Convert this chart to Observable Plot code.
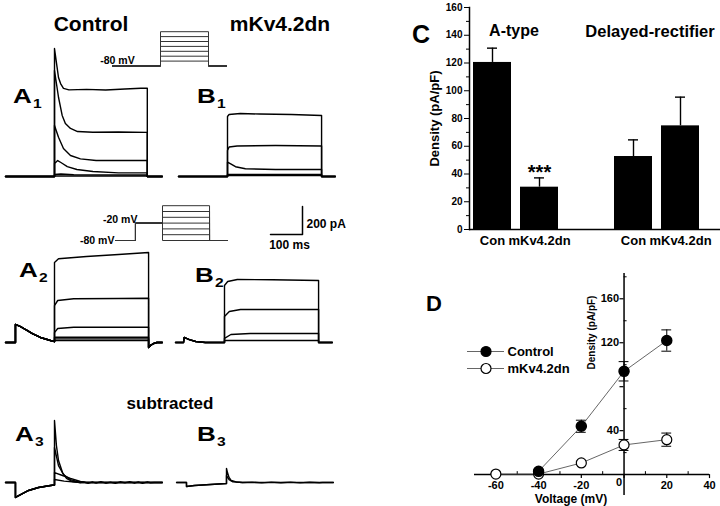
<!DOCTYPE html>
<html><head><meta charset="utf-8">
<script src="https://cdn.jsdelivr.net/npm/d3@7"></script>
<script src="https://cdn.jsdelivr.net/npm/@observablehq/plot@0.6"></script>
<style>
body{margin:0;background:#fff;}
#fig{position:relative;width:720px;height:506px;overflow:hidden;background:#fff;font-family:"Liberation Sans",Arial,sans-serif;font-weight:bold;color:#000;}
.pp{position:absolute;}
.lbl{position:absolute;white-space:nowrap;line-height:1;}
.pl{position:absolute;white-space:nowrap;line-height:1;font-size:20px;transform-origin:left center;}
.pl .s{font-size:12px;position:relative;top:5px;margin-left:1px;}
</style></head>
<body><div id="fig"></div>
<script>
const FONT = '"Liberation Sans", Arial, sans-serif';

// ---------- current traces (t in ms from step onset, I in pA) ----------
const A1_PRE = [[-153,0],[0,0]];
const A1_POST = [[290,0],[337,0]];
const A1_STEPS = [
  [[0,914],[8,781],[12.5,707],[19,664],[28,629],[45,619],[100,622],[160,618],[220,625],[270,630],[290,630]],
  [[0,757],[12.5,566],[24,436],[34,379],[50,343],[72,321],[120,316],[200,318],[290,315]],
  [[0,364],[12.5,281],[28,200],[50,150],[81,126],[130,114],[290,114]],
  [[0,93],[10,114],[20,100],[40,71],[70,50],[120,36],[200,26],[290,26]],
  [[0,14],[20,18],[60,12],[290,11]],
  [[0,4],[290,4]]
];
const B1_PRE = [[-153,0],[0,0]];
const B1_POST = [[294,0],[337,0]];
const B1_STEPS = [
  [[0,429],[5,443],[40,450],[100,446],[200,443],[294,436]],
  [[0,186],[5,211],[30,218],[150,221],[294,218]],
  [[0,102],[10,90],[25,70],[56,55],[150,50],[294,50]],
  [[0,14],[294,14]],
  [[0,7],[294,7]]
];
const A2_PRE = [[-153,0],[-122,0],[-122,129],[-106,114],[-91,93],[-69,64],[-44,36],[-12.5,14],[0,6]];
const A2_POST = [[294,-36],[300,-21],[310,-7],[320,0],[337,0]];
const A2_STEPS = [
  [[0,571],[12.5,598],[100,614],[200,629],[294,643]],
  [[0,264],[10,300],[60,312],[200,314],[294,316]],
  [[0,71],[10,100],[60,109],[294,109]],
  [[0,38],[294,38]],
  [[0,26],[294,26]],
  [[0,14],[294,14]]
];
const B2_PRE = [[-153,0],[-128,0],[-126,36],[-110,21],[-90,7],[-60,0],[0,0]];
const B2_POST = [[294,0],[337,0]];
const B2_STEPS = [
  [[0,407],[10,436],[40,450],[150,448],[294,443]],
  [[0,186],[15,221],[50,236],[294,236]],
  [[0,29],[20,57],[80,64],[294,64]],
  [[0,14],[294,14]]
];
const A3_PRE = [[-153,0],[-122,0],[-122,-107],[-106,-86],[-81,-57],[-50,-36],[-12.5,-21],[0,-18]];
const A3_POST = [[337,0]];
const A3_STEPS = [
  [[0,443],[6,264],[12.5,157],[25,71],[37.5,29],[56,7],[80,0],[90,4],[105,-6],[118,5],[130,-4],[145,6],[160,-5],[175,3],[190,-6],[205,5],[220,-3],[235,6],[250,-5],[262,4],[275,-6],[290,5],[300,-2],[312,0]],
  [[0,250],[12.5,121],[28,57],[50,21],[80,0]],
  [[0,71],[25,50],[50,29],[81,7],[100,0]],
  [[0,21],[30,10],[80,0]]
];
const B3_PRE = [[-156,0],[-125,0],[-125,-29],[-100,-21],[-50,-14],[0,-7]];
const B3_POST = [[334,0]];
const B3_STEPS = [
  [[0,100],[3,71],[8,36],[15,14],[30,4],[50,0],[80,3],[110,-3],[140,3],[170,-2],[200,3],[230,-3],[260,2],[290,-2],[300,0]],
  [[0,50],[8,20],[20,5],[50,0]]
];

// ---------- voltage protocols ----------
const HOLD_MV = -80;
const P1_LEVELS = [-60,-40,-20,0,20,40,60];
const P1_TIMES = [-300,0,300,412];
const P2_LEVELS = [-80,-60,-40,-20,0,20,40];
const P2_PRE_MV = -20;
const P2_TIMES = [-294,-169,0,294,406];

// ---------- scale bar ----------
const SCALE_MS = 100, SCALE_PA = 200;

// ---------- panel C ----------
const C_KEYS = ["A-Con","A-dn","gap","D-Con","D-dn"];
const C_LABELS = ["Con","mKv4.2dn","","Con","mKv4.2dn"];
const C_VALUES = [120.4, 30.5, null, 52.6, 74.7];
const C_ERRORS = [10.3, 6.7, null, 12.0, 20.7];
const C_SIG = ["", "***", "", "", ""];
const C_YTICKS = [0,20,40,60,80,100,120,140,160];
const C_YMINOR = [10,30,50,70,90,110,130,150];

// ---------- panel D ----------
const D_VOLT_CTRL = [-40,-20,0,20];
const D_CTRL = [3, 44, 94, 122];
const D_CTRL_ERR = [1, 5.5, 8.8, 9.7];
const D_VOLT_DN = [-60,-40,-20,0,20];
const D_DN = [0.5, 0.5, 10.6, 27, 31.8];
const D_DN_ERR = [0, 0, 1.5, 5, 6];
const D_XLABELS = [-60,-40,-20,0,20,40];
const D_XMINOR = [-50,-30,-10,10,30];
const D_YMAJOR = [40,80,120,160];
const D_YLABELS = [40,120,160];
const D_YMINOR = [20,60,100,140,180];
const D_SERIES = ["Control","mKv4.2dn"];

// ---------- layout helpers ----------
const fig = document.getElementById("fig");
const MS = 0.32, PA = 0.14;      // px per ms, px per pA
const PMS = 0.16;                // protocol px per ms
const baseStyle = {background:"none", fontFamily:FONT, fontWeight:"bold", overflow:"visible"};

function place(svg, left, top, w){
  const d = document.createElement("div");
  d.className = "pp"; d.style.left = left+"px"; d.style.top = top+"px"; d.style.width = w+"px";
  d.appendChild(svg); fig.appendChild(d);
}
function panel(box, origin, scale, marks){
  const [left, top, width, height] = box, [ox, oy] = origin, [sx, sy] = scale;
  const svg = Plot.plot({
    width, height, margin:0, style:baseStyle,
    x:{domain:[(left-ox)/sx, (left+width-ox)/sx], axis:null, label:null},
    y:{domain:[(oy-top-height)/sy, (oy-top)/sy], axis:null, label:null},
    marks
  });
  place(svg, left, top, width);
}
function traceMarks(pre, steps, post){
  const data = steps.flatMap((s,k) => [...pre, ...s, ...post].map(([t,v]) => ({t, v, k})));
  return [Plot.line(data, {x:"t", y:"v", z:"k", stroke:"black", strokeWidth:1.4})];
}
function label(txt, x, y, size, anchor="middle"){
  const d = document.createElement("div");
  d.className = "lbl"; d.textContent = txt;
  d.style.left = x+"px"; d.style.top = y+"px"; d.style.fontSize = size+"px";
  d.style.transform = `translate(${anchor==="start"?0:-50}%,-50%)`;
  fig.appendChild(d);
}
function panelLetter(letter, sub, x, y){
  const d = document.createElement("div");
  d.className = "pl"; d.style.left = x+"px"; d.style.top = (y-10)+"px";
  d.style.transform = "scaleX(1.3)";
  const a = document.createElement("span"); a.textContent = letter;
  const s = document.createElement("span"); s.className = "s"; s.textContent = sub;
  d.appendChild(a); d.appendChild(s); fig.appendChild(d);
}

// ---------- traces ----------
panel([0,40,175,145],  [54,176],  [MS,PA], traceMarks(A1_PRE, A1_STEPS, A1_POST));
panel([172,100,168,85],[227,176], [MS,PA], traceMarks(B1_PRE, B1_STEPS, B1_POST));
panel([0,245,175,110], [54,342],  [MS,PA], traceMarks(A2_PRE, A2_STEPS, A2_POST));
panel([172,268,168,85],[224,342], [MS,PA], traceMarks(B2_PRE, B2_STEPS, B2_POST));
panel([0,410,175,95],  [54,482],  [MS,PA], traceMarks(A3_PRE, A3_STEPS, A3_POST));
panel([172,455,168,45],[226,482], [MS,PA], traceMarks(B3_PRE, B3_STEPS, B3_POST));

// ---------- protocol 1 ----------
{
  const [t0,t1,t2,t3] = P1_TIMES;
  const data = P1_LEVELS.flatMap((V,k) => [[t0,HOLD_MV],[t1,HOLD_MV],[t1,V],[t2,V],[t2,HOLD_MV],[t3,HOLD_MV]].map(([t,v])=>({t,v,k})));
  panel([80,20,160,55],[160,45.9],[PMS,0.245],[
    Plot.line(data,{x:"t",y:"v",z:"k",stroke:"#333",strokeWidth:1}),
    Plot.text([{t:t0,v:HOLD_MV,s:`${HOLD_MV} mV`}],{x:"t",y:"v",text:"s",dx:5,dy:-5.5,fontSize:10.5})
  ]);
}
// ---------- protocol 2 ----------
{
  const [t0,tp,t1,t2,t3] = P2_TIMES;
  const data = P2_LEVELS.flatMap((V,k) => [[t0,HOLD_MV],[tp,HOLD_MV],[tp,P2_PRE_MV],[t1,P2_PRE_MV],[t1,V],[t2,V],[t2,HOLD_MV],[t3,HOLD_MV]].map(([t,v])=>({t,v,k})));
  panel([60,195,180,55],[162,216.8],[PMS,0.29],[
    Plot.line(data,{x:"t",y:"v",z:"k",stroke:"#333",strokeWidth:1}),
    Plot.text([{t:t0,v:HOLD_MV,s:`${HOLD_MV} mV`}],{x:"t",y:"v",text:"s",textAnchor:"end",dx:-1,fontSize:10.5}),
    Plot.text([{t:tp,v:P2_PRE_MV,s:`${P2_PRE_MV} mV`}],{x:"t",y:"v",text:"s",textAnchor:"end",dx:2,dy:-3.5,fontSize:10.5})
  ]);
}
// ---------- scale bar ----------
panel([255,198,100,57],[302,234],[MS,PA],[
  Plot.line([[-SCALE_MS,0],[0,0],[0,SCALE_PA]],{x:d=>d[0],y:d=>d[1],stroke:"black",strokeWidth:1.5}),
  Plot.text([`${SCALE_PA} pA`],{x:()=>0,y:()=>SCALE_PA/2,text:d=>d,textAnchor:"start",dx:4,dy:4,fontSize:12}),
  Plot.text([`${SCALE_MS} ms`],{x:()=>-SCALE_MS/2,y:()=>0,text:d=>d,dx:3,dy:11,fontSize:12})
]);

// ---------- panel C ----------
{
  const cData = C_KEYS.map((key,i)=>({key,value:C_VALUES[i],err:C_ERRORS[i],sig:C_SIG[i]})).filter(d=>d.value!=null);
  const svg = Plot.plot({
    width:310, height:250, marginLeft:59, marginRight:0, marginTop:7, marginBottom:21,
    style:baseStyle,
    x:{type:"band", domain:C_KEYS, range:[59,294], paddingInner:0.19, paddingOuter:0.095, label:null},
    y:{domain:[0,160], label:null},
    marks:[
      Plot.ruleX(cData,{x:"key",y1:"value",y2:d=>d.value+d.err,stroke:"black",strokeWidth:1.4}),
      Plot.tickY(cData,{x:"key",y:d=>d.value+d.err,insetLeft:14,insetRight:14,stroke:"black",strokeWidth:1.4}),
      Plot.barY(cData,{x:"key",y:"value",fill:"black"}),
      Plot.text(cData,{x:"key",y:d=>d.value+d.err,text:"sig",dy:-5,fontSize:20}),
      Plot.axisY({ticks:C_YTICKS,tickSize:5,tickPadding:2,fontSize:10}),
      Plot.axisY({ticks:C_YMINOR,tickSize:3,tickFormat:()=>""}),
      Plot.axisX({ticks:C_KEYS.filter((k,i)=>C_LABELS[i]),tickFormat:k=>C_LABELS[C_KEYS.indexOf(k)],tickSize:0,tickPadding:6,fontSize:13}),
      Plot.frame({anchor:"left",strokeWidth:1.5}),
      Plot.ruleY([0],{strokeWidth:1.5}),
      Plot.text(["Density (pA/pF)"],{frameAnchor:"left",rotate:-90,dx:-35,text:d=>d,textAnchor:"middle",lineAnchor:"middle",fontSize:13})
    ]
  });
  place(svg,410,0,310);
}

// ---------- panel D ----------
{
  const dCtrl = D_VOLT_CTRL.map((v,i)=>({v,y:D_CTRL[i],e:D_CTRL_ERR[i]}));
  const dDn = D_VOLT_DN.map((v,i)=>({v,y:D_DN[i],e:D_DN_ERR[i]}));
  const both = [...dCtrl, ...dDn];
  const CAP = 2.3, TKX = 3.6, TKY = 1.9;
  const svg = Plot.plot({
    width:260, height:241, marginLeft:14, marginRight:11, marginTop:8, marginBottom:11,
    style:baseStyle,
    x:{domain:[-70,40], axis:null, label:null},
    y:{domain:[-19,183], axis:null, label:null},
    marks:[
      Plot.ruleY([0],{strokeWidth:1.5}),
      Plot.ruleX([0],{strokeWidth:1.5}),
      Plot.ruleX(D_XLABELS,{x:d=>d,y1:-TKX,y2:0,strokeWidth:1.2}),
      Plot.ruleX(D_XMINOR,{x:d=>d,y1:0,y2:TKX*0.75,strokeWidth:1}),
      Plot.ruleY(D_YMAJOR,{y:d=>d,x1:-TKY,x2:0,strokeWidth:1.2}),
      Plot.ruleY(D_YMINOR,{y:d=>d,x1:0,x2:TKY*0.75,strokeWidth:1}),
      Plot.text(D_XLABELS.filter(d=>d!==0),{x:d=>d,y:()=>0,dy:11,text:d=>String(d),fontSize:11}),
      Plot.text(D_XLABELS.filter(d=>d===0),{x:d=>d,y:()=>0,dx:-5,dy:8,text:d=>String(d),fontSize:11}),
      Plot.text(D_YLABELS,{x:()=>0,y:d=>d,dx:-5,textAnchor:"end",text:d=>String(d),fontSize:11}),
      Plot.line(dDn,{x:"v",y:"y",stroke:"#555",strokeWidth:0.9}),
      Plot.line(dCtrl,{x:"v",y:"y",stroke:"#555",strokeWidth:0.9}),
      Plot.ruleX(both,{x:"v",y1:d=>d.y-d.e,y2:d=>d.y+d.e,strokeWidth:1}),
      Plot.ruleY(both,{y:d=>d.y+d.e,x1:d=>d.v-CAP,x2:d=>d.v+CAP,strokeWidth:1}),
      Plot.ruleY(both,{y:d=>d.y-d.e,x1:d=>d.v-CAP,x2:d=>d.v+CAP,strokeWidth:1}),
      Plot.dot(dDn,{x:"v",y:"y",r:5,fill:"white",stroke:"black",strokeWidth:1.2}),
      Plot.dot(dCtrl,{x:"v",y:"y",r:5,fill:"black",stroke:"black"}),
      Plot.text(["Voltage (mV)"],{frameAnchor:"bottom",dx:-21,dy:4,textAnchor:"middle",lineAnchor:"middle",text:d=>d,fontSize:12}),
      Plot.text(["Density (pA/pF)"],{frameAnchor:"top",rotate:-90,dy:59,textAnchor:"middle",lineAnchor:"middle",text:d=>d,fontSize:10})
    ]
  });
  place(svg,460,265,260);
  // legend
  const leg = Plot.plot({
    width:120, height:40, margin:0, style:baseStyle,
    x:{domain:[0,1], range:[5,42], axis:null, label:null},
    y:{type:"point", domain:D_SERIES, range:[11,28], padding:0, axis:null, label:null},
    marks:[
      Plot.ruleY(D_SERIES,{y:d=>d,x1:()=>0,x2:()=>1,stroke:"#555",strokeWidth:0.9}),
      Plot.dot(D_SERIES,{y:d=>d,x:()=>0.5,r:5,fill:(d,i)=>i===0?"black":"white",stroke:"black",strokeWidth:1.2}),
      Plot.text(D_SERIES,{y:d=>d,x:()=>1,dx:3,textAnchor:"start",text:d=>d,fontSize:13})
    ]
  });
  place(leg,462,340,120);
}

// ---------- titles & panel letters ----------
label("Control",91,23,21);
label("mKv4.2dn",280,23,21);
label("subtracted",170,403,17);
label("A-type",514,31,16);
label("Delayed-rectifier",650,31,16.5);
label("C",421,34,25);
label("D",434,304,22);
panelLetter("A","1",13,96);
panelLetter("B","1",197,96);
panelLetter("A","2",19,270);
panelLetter("B","2",195,275);
panelLetter("A","3",15,434);
panelLetter("B","3",197,434);
</script></body></html>
